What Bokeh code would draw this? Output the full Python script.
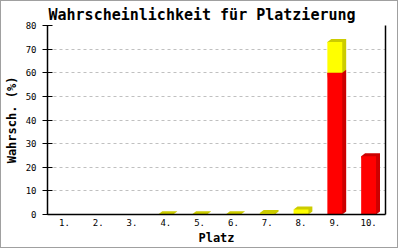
import numpy as np
from bokeh.plotting import figure
from bokeh.models import Range1d, LinearAxis, FixedTicker
from bokeh.embed import file_html
from bokeh.resources import INLINE

# ---- data ----
places = ["1.", "2.", "3.", "4.", "5.", "6.", "7.", "8.", "9.", "10."]
red_vals = [0, 0, 0, 0, 0, 0, 0, 0, 60, 24.7]
yellow_vals = [0, 0, 0, 0.15, 0.15, 0.15, 0.6, 2.1, 13, 0]
y_ticks = [0, 10, 20, 30, 40, 50, 60, 70, 80]

title_text = "Wahrscheinlichkeit für Platzierung"
x_label = "Platz"
y_label = "Wahrsch. (%)"

RED, RED_DARK = "#ff0000", "#cc0000"
YEL, YEL_DARK = "#ffff00", "#cccc00"

W, H = 398, 248
ML, MR, MT, MB = 42, 14, 24, 35
frame_w = W - ML - MR
frame_h = H - MT - MB

p = figure(width=W, height=H, x_range=Range1d(0.5, len(places) + 0.5),
           y_range=Range1d(y_ticks[0], y_ticks[-1]),
           output_backend="svg", toolbar_location=None,
           min_border_left=ML, min_border_right=MR,
           min_border_top=MT, min_border_bottom=MB,
           title=title_text)
p.styles = {"border": "1px solid #a0a0a0"}
p.background_fill_color = "white"
p.border_fill_color = "white"
p.outline_line_color = None

p.title.text_font = "DejaVu Sans Mono"
p.title.text_font_style = "bold"
p.title.text_font_size = "15px"
p.title.text_color = "black"
p.title.align = "left"
p.title.offset = 1
p.title.standoff = 3

xs = np.arange(1, len(places) + 1)
half = 0.22
dx = 4.0 / frame_w * len(places)
dy = 3.0 / frame_h * (y_ticks[-1] - y_ticks[0])

red = np.array(red_vals, dtype=float)
yel = np.array(yellow_vals, dtype=float)

def shadow_polys(bottoms, tops):
    pxs, pys = [], []
    for x, b, t in zip(xs, bottoms, tops):
        if t - b <= 0:
            continue
        x0, x1 = x - half, x + half
        pxs.append([x0, x0 + dx, x1 + dx, x1 + dx, x1])
        pys.append([t, t + dy, t + dy, b + dy, b])
    return pxs, pys

rx, ry = shadow_polys(np.zeros_like(red), red)
yx, yy = shadow_polys(red, red + yel)
if rx:
    p.patches(rx, ry, fill_color=RED_DARK, line_color=None)
if yx:
    p.patches(yx, yy, fill_color=YEL_DARK, line_color=None)

p.quad(left=xs - half, right=xs + half, bottom=0, top=red,
       fill_color=RED, line_color=None)
p.quad(left=xs - half, right=xs + half, bottom=red, top=red + yel,
       fill_color=YEL, line_color=None)

# axes
p.xaxis.ticker = FixedTicker(ticks=list(xs))
p.xaxis.major_label_overrides = {int(x): lab for x, lab in zip(xs, places)}
p.yaxis.ticker = FixedTicker(ticks=y_ticks)

for ax in (p.xaxis, p.yaxis):
    ax.axis_line_color = "black"
    ax.axis_line_width = 1.5
    ax.minor_tick_line_color = None
    ax.minor_tick_out = 0
    ax.minor_tick_in = 0
    ax.major_label_text_font = "DejaVu Sans Mono"
    ax.major_label_text_font_size = "9px"
    ax.major_label_text_color = "black"
    ax.axis_label_text_font = "DejaVu Sans Mono"
    ax.axis_label_text_font_style = "bold"
    ax.axis_label_text_font_size = "12px"
    ax.axis_label_text_color = "black"

p.xaxis.major_tick_line_color = None
p.xaxis.major_tick_out = 0
p.xaxis.major_tick_in = 0
p.yaxis.major_tick_line_color = "black"
p.yaxis.major_tick_out = 5
p.yaxis.major_tick_in = 5

p.xaxis.axis_label = x_label
p.yaxis.axis_label = y_label
p.xaxis.major_label_standoff = 4
p.xaxis.axis_label_standoff = 2
p.yaxis.major_label_standoff = 6
p.yaxis.axis_label_standoff = 4

right_ax = LinearAxis(major_tick_line_color=None, minor_tick_line_color=None,
                      major_tick_out=0, major_tick_in=0,
                      minor_tick_out=0, minor_tick_in=0,
                      major_label_text_font_size="0px", axis_line_width=1.5)
right_ax.ticker = FixedTicker(ticks=[])
p.add_layout(right_ax, "right")

p.xgrid.grid_line_color = None
p.ygrid.grid_line_color = "#c0c0c0"
p.ygrid.grid_line_dash = "3 3"
p.ygrid.grid_line_width = 1

open("out.html", "w").write(file_html(p, INLINE))
